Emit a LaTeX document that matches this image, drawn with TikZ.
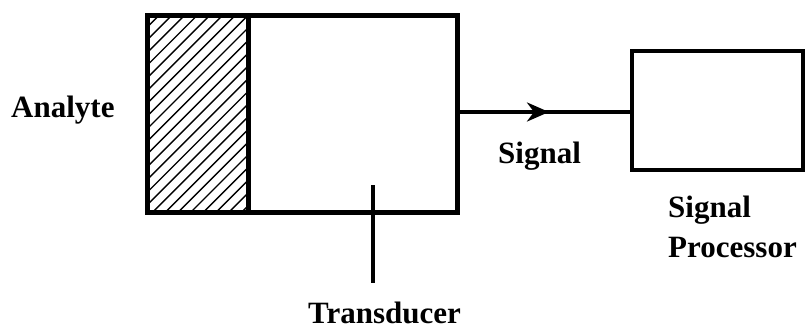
\documentclass[tikz,border=0pt]{standalone}
\usepackage{fontspec}
\setmainfont{Liberation Serif}
\usetikzlibrary{arrows.meta}
\begin{document}
\begin{tikzpicture}[x=1pt,y=-1pt,
  lbl/.style={font=\fontsize{31}{35}\selectfont\bfseries, inner sep=0pt, anchor=base west},
  blk/.style={draw, line width=5pt, inner sep=0pt}]
\useasboundingbox (0,0) rectangle (808,329);
% hatching
\begin{scope}
\clip (147,16) rectangle (248,212);
\foreach \i in {-210,-197.3,...,120} {
  \draw[line width=1.4pt] (147+\i,212) -- (147+\i+196,16);
}
\end{scope}
\node[blk, minimum width=310pt, minimum height=196pt] (tb) at (302,114) {};
\draw[line width=5pt] (248,16) -- (248,212);
\node[blk, line width=4.5pt, minimum width=171pt, minimum height=119pt] (sp) at (717.5,110.5) {};
\coordinate (a0) at (tb.east |- 0,112);
\coordinate (am) at (549,112);
\coordinate (a1) at (sp.west |- 0,112);
\draw[line width=3.5pt] (a0) -- (a1);
\draw[line width=3.5pt, -{Stealth[length=22pt,width=19pt,inset=7pt]}] (a0) -- (am);
\coordinate (t0) at (373,185);
\coordinate (t1) at (373,283);
\draw[line width=4pt] (t0) -- (t1);
\node[lbl] (an) at (11,117) {Analyte};
\node[lbl] (sg) at (498,163) {Signal};
\node[lbl] (sp1) at (668,217) {Signal};
\node[lbl] (sp2) at (668,257) {Processor};
\node[lbl] (tr) at (308,323) {Transducer};
\end{tikzpicture}
\end{document}
